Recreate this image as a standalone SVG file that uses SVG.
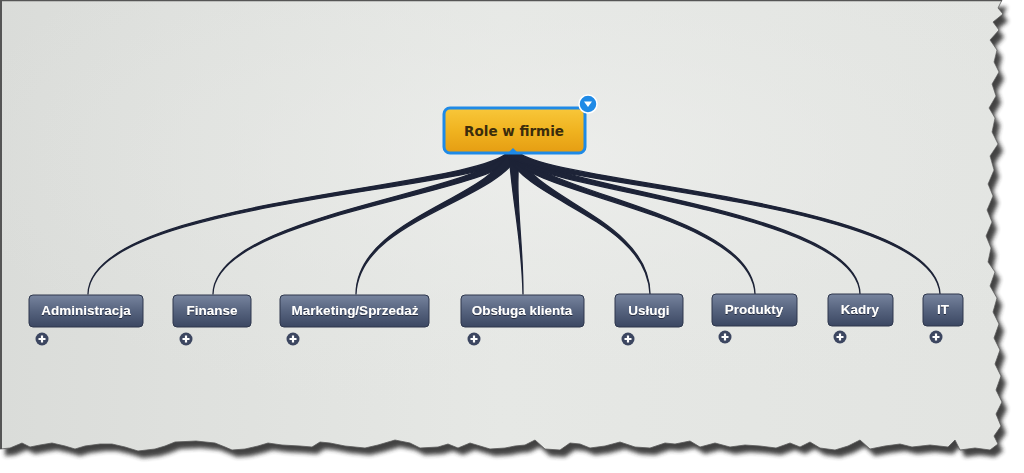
<svg xmlns="http://www.w3.org/2000/svg" width="1024" height="473" viewBox="0 0 1024 473">
<defs>
<linearGradient id="paperG" x1="0" y1="0" x2="1" y2="0">
<stop offset="0" stop-color="#dadcd9"/><stop offset="0.5" stop-color="#e6e8e5"/><stop offset="1" stop-color="#e2e4e1"/>
</linearGradient>
<radialGradient id="glow" cx="0.55" cy="0.35" r="0.6">
<stop offset="0" stop-color="#eeefed" stop-opacity="0.8"/><stop offset="1" stop-color="#e4e6e3" stop-opacity="0"/>
</radialGradient>
<linearGradient id="childG" x1="0" y1="0" x2="0" y2="1">
<stop offset="0" stop-color="#77849e"/><stop offset="0.5" stop-color="#56637e"/><stop offset="1" stop-color="#3b4762"/>
</linearGradient>
<linearGradient id="rootG" x1="0" y1="0" x2="0" y2="1">
<stop offset="0" stop-color="#f8c73a"/><stop offset="0.5" stop-color="#f0b320"/><stop offset="1" stop-color="#e59d12"/>
</linearGradient>
<filter id="blur" x="-5%" y="-5%" width="110%" height="110%"><feGaussianBlur stdDeviation="2"/></filter>
<filter id="tshadow" x="-10%" y="-20%" width="120%" height="140%"><feDropShadow dx="0" dy="1" stdDeviation="0.6" flood-color="#1b2235" flood-opacity="0.9"/></filter>
<polygon id="paper" points="0,0 1002,0 998,8 1003,14 993,22 999,30 990,40 997,50 994,62 999,72 992,84 996,96 989,108 995,118 992,132 998,144 990,156 994,170 988,184 993,196 987,210 992,222 986,236 991,248 988,262 995,272 990,286 997,298 993,312 999,324 994,338 1000,350 995,364 1001,376 996,390 1002,402 996,414 1001,426 994,436 998,444 990,450 975,448 960,450 955,440 948,447 930,445 912,447 900,444 885,446 870,449 860,440 848,446 835,450 820,448 810,442 800,447 790,443 776,448 760,446 745,445 730,447 715,443 700,447 690,441 675,444 665,443 650,448 635,447 620,442 605,446 590,448 580,444 570,443 560,450 545,449 535,440 525,445 515,446 505,448 490,449 480,446 470,443 458,448 448,444 438,447 420,448 410,443 395,440 378,445 365,448 345,446 330,443 320,442 312,447 300,446 282,445 268,443 258,446 245,449 232,450 225,447 215,443 196,441 175,442 165,446 155,449 138,451 125,447 112,444 100,444 85,446 75,449 65,446 52,443 40,445 30,447 22,443 10,448 0,449"/>
</defs>
<style>
.child rect.box{fill:url(#childG);stroke:#2e374d;stroke-width:1}
.child text{font-family:"Liberation Sans",Arial,sans-serif;font-weight:bold;font-size:13.5px;fill:#ffffff;text-anchor:middle;filter:url(#tshadow)}
.plus circle{fill:#3c4660}
.plus path{stroke:#ffffff;stroke-width:2.2;fill:none}
.conn path{fill:#1d2337;stroke:#1d2337;stroke-width:1.3;stroke-linejoin:round}
</style>
<rect width="1024" height="473" fill="#ffffff"/>
<use href="#paper" fill="#2e2e2e" transform="translate(5,7)" filter="url(#blur)" opacity="0.9"/>
<use href="#paper" fill="url(#paperG)" stroke="#5a5a5a" stroke-width="0.8"/>
<use href="#paper" fill="url(#glow)"/>
<line x1="0" y1="0.5" x2="1002" y2="0.5" stroke="#555" stroke-width="1.5"/>
<line x1="1" y1="0" x2="1" y2="449" stroke="#555" stroke-width="2"/>

<g id="connectors" class="conn">
<path d="M508,152 C476,189 90,199 88,294 C90,201 478,192 518,156 Z"/>
<path d="M508,152 C481,194 215,214 213,294 C215,216 483,197 518,156 Z"/>
<path d="M508,152 C490,199 357,219 356,294 C359,221 493,202 518,156 Z"/>
<path d="M509,152 C512,200 522,240 523,294 C523,240 515,200 519,156 Z"/>
<path d="M508,156 C528,202 647,221 650,294 C649,219 531,199 518,152 Z"/>
<path d="M508,156 C538,197 751,216 755,294 C753,214 541,194 518,152 Z"/>
<path d="M508,156 C543,192 857,211 860,294 C859,209 546,189 518,152 Z"/>
<path d="M508,156 C548,187 934,201 940,294 C936,199 551,184 518,152 Z"/>
</g>

<g id="root">
<rect x="444" y="108" width="141" height="45" rx="6" fill="url(#rootG)" stroke="#1f8ae6" stroke-width="3"/>
<path d="M508,153 L513,148 L518,153 Z" fill="#1f8ae6"/>
<text x="514" y="136" font-family="DejaVu Sans,Verdana,sans-serif" font-weight="bold" font-size="13.5" fill="#3b2c0c" text-anchor="middle">Role w firmie</text>
<circle cx="588" cy="104" r="9" fill="#1f8ae6" stroke="#ffffff" stroke-width="1.5"/>
<path d="M584,101.5 L592,101.5 L588,107 Z" fill="#ffffff"/>
</g>

<g id="n1" class="child"><rect class="box" x="29" y="295" width="114" height="32" rx="4"/><text x="86" y="315">Administracja</text>
<g class="plus"><circle cx="42" cy="339" r="6.5"/><path d="M38.5,339 H45.5 M42,335.5 V342.5"/></g></g>
<g id="n2" class="child"><rect class="box" x="173" y="295" width="78" height="32" rx="4"/><text x="212" y="315">Finanse</text>
<g class="plus"><circle cx="186" cy="339" r="6.5"/><path d="M182.5,339 H189.5 M186,335.5 V342.5"/></g></g>
<g id="n3" class="child"><rect class="box" x="280" y="295" width="149" height="32" rx="4"/><text x="355" y="315">Marketing/Sprzedaż</text>
<g class="plus"><circle cx="293" cy="339" r="6.5"/><path d="M289.5,339 H296.5 M293,335.5 V342.5"/></g></g>
<g id="n4" class="child"><rect class="box" x="461" y="295" width="123" height="32" rx="4"/><text x="522" y="315">Obsługa klienta</text>
<g class="plus"><circle cx="474" cy="339" r="6.5"/><path d="M470.5,339 H477.5 M474,335.5 V342.5"/></g></g>
<g id="n5" class="child"><rect class="box" x="615" y="294" width="68" height="33" rx="4"/><text x="649" y="315">Usługi</text>
<g class="plus"><circle cx="628" cy="339" r="6.5"/><path d="M624.5,339 H631.5 M628,335.5 V342.5"/></g></g>
<g id="n6" class="child"><rect class="box" x="712" y="294" width="85" height="32" rx="4"/><text x="754" y="314">Produkty</text>
<g class="plus"><circle cx="725" cy="337" r="6.5"/><path d="M721.5,337 H728.5 M725,333.5 V340.5"/></g></g>
<g id="n7" class="child"><rect class="box" x="828" y="294" width="65" height="32" rx="4"/><text x="860" y="314">Kadry</text>
<g class="plus"><circle cx="840" cy="337" r="6.5"/><path d="M836.5,337 H843.5 M840,333.5 V340.5"/></g></g>
<g id="n8" class="child"><rect class="box" x="923" y="294" width="40" height="32" rx="4"/><text x="943" y="314">IT</text>
<g class="plus"><circle cx="936" cy="337" r="6.5"/><path d="M932.5,337 H939.5 M936,333.5 V340.5"/></g></g>
</svg>
